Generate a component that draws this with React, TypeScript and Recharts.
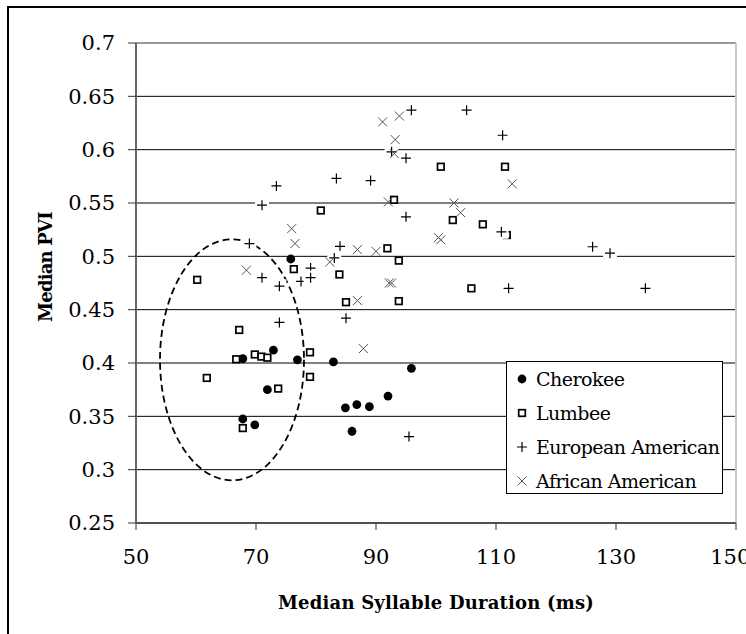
import { CartesianGrid, Label, Legend, ReferenceArea, ReferenceLine, Scatter, ScatterChart, XAxis, YAxis } from 'recharts'

const FONT = '"DejaVu Serif", serif'

// [median syllable duration (ms), median PVI]
const cherokee = [
  [75.8, 0.4975], [67.8, 0.404], [72.9, 0.412], [76.9, 0.403], [71.9, 0.375],
  [67.8, 0.3475], [69.8, 0.342], [82.9, 0.401], [84.9, 0.358], [86.8, 0.361],
  [88.9, 0.359], [86.0, 0.336], [92.0, 0.369], [95.9, 0.395],
]

const lumbee = [
  [60.2, 0.478], [80.8, 0.543], [76.3, 0.488], [83.9, 0.483], [85.0, 0.457],
  [91.9, 0.5075], [93.0, 0.553], [93.8, 0.496], [93.8, 0.458], [100.8, 0.584],
  [111.5, 0.584], [102.8, 0.534], [107.8, 0.53], [111.8, 0.52], [105.9, 0.47],
  [67.2, 0.431], [66.7, 0.4035], [69.8, 0.408], [70.9, 0.406], [71.9, 0.405],
  [61.8, 0.386], [73.7, 0.376], [67.8, 0.339], [79.0, 0.41], [79.0, 0.387],
]

const european = [
  [95.9, 0.637], [73.4, 0.566], [71.0, 0.548], [83.4, 0.573], [89.1, 0.571],
  [92.6, 0.598], [95.0, 0.592], [95.0, 0.537], [68.9, 0.512], [71.0, 0.48],
  [73.9, 0.472], [77.5, 0.4765], [79.1, 0.489], [79.1, 0.48], [84.0, 0.5094],
  [83.05, 0.4985], [105.1, 0.637], [111.1, 0.6135], [110.9, 0.523], [126.1, 0.509],
  [129.0, 0.503], [112.1, 0.47], [134.9, 0.47], [73.9, 0.438], [85.0, 0.442],
  [95.5, 0.331],
]

const african = [
  [91.1, 0.626], [93.9, 0.6315], [93.2, 0.6094], [93.05, 0.5963], [92.05, 0.551],
  [75.95, 0.526], [76.5, 0.512], [68.4, 0.487], [82.3, 0.4947], [86.9, 0.5063],
  [90.0, 0.5047], [92.2, 0.475], [92.6, 0.475], [86.9, 0.4585], [112.7, 0.568],
  [103.0, 0.55], [104.1, 0.541], [100.4, 0.5175], [100.8, 0.5155], [87.9, 0.4135],
]

const seriesNames = ['Cherokee', 'Lumbee', 'European American', 'African American']
const xTicks = [50, 70, 90, 110, 130, 150]
const yTicks = [0.25, 0.3, 0.35, 0.4, 0.45, 0.5, 0.55, 0.6, 0.65, 0.7]

// dashed ellipse drawn around the Native American cluster
const ellipseX = [54, 78]
const ellipseY = [0.29, 0.516]

const toPoints = (pairs: number[][]) => pairs.map(([x, y]) => ({ x, y }))

function DotMark({ cx, cy }: any) {
  return <circle cx={cx} cy={cy} r={4.4} fill="#000" />
}

function SquareMark({ cx, cy }: any) {
  return <rect x={cx - 3.3} y={cy - 3.3} width={6.6} height={6.6} fill="#fff" stroke="#000" strokeWidth={1.7} />
}

function PlusMark({ cx, cy, bg = true }: any) {
  return (
    <g>
      {bg && <rect x={cx - 7} y={cy - 7} width={14} height={14} fill="#fff" />}
      <path d={`M${cx - 5},${cy}H${cx + 5}M${cx},${cy - 5}V${cy + 5}`} stroke="#000" strokeWidth={1.2} />
    </g>
  )
}

function CrossMark({ cx, cy }: any) {
  return (
    <path
      d={`M${cx - 4.5},${cy - 4.5}L${cx + 4.5},${cy + 4.5}M${cx - 4.5},${cy + 4.5}L${cx + 4.5},${cy - 4.5}`}
      stroke="#555"
      strokeWidth={1}
    />
  )
}

const markers = [DotMark, SquareMark, PlusMark, CrossMark]

function LegendBox() {
  return (
    <div
      style={{
        width: 215,
        height: 131,
        border: '1px solid #000',
        background: '#fff',
        fontFamily: FONT,
        fontSize: 19,
        color: '#000',
      }}
    >
      {seriesNames.map((name, i) => {
        const Mark = markers[i]
        return (
          <div key={name} style={{ display: 'flex', alignItems: 'center', height: 34, whiteSpace: 'nowrap' }}>
            <svg width={29} height={34} style={{ flex: 'none' }}>
              <Mark cx={15} cy={17} bg={false} />
            </svg>
            <span style={{ lineHeight: '34px', letterSpacing: -0.5 }}>{name}</span>
          </div>
        )
      })}
    </div>
  )
}

export default function App() {
  const tickStyle = { fontSize: 21, fill: '#000', fontFamily: FONT }
  const series = [cherokee, lumbee, european, african]

  return (
    <div style={{ position: 'absolute', left: 0, top: 0, width: 746, height: 634, overflow: 'hidden', background: '#fff' }}>
      <div
        style={{
          position: 'absolute',
          left: 7,
          top: 6,
          width: 800,
          height: 700,
          border: '2px solid #000',
        }}
      />
      <div style={{ position: 'absolute', left: 0, top: 0 }}>
        <ScatterChart width={746} height={634} margin={{ top: 43, right: 10, bottom: 31, left: 60 }}>
          <CartesianGrid vertical={false} stroke="#000" strokeWidth={1} />
          <XAxis
            type="number"
            dataKey="x"
            domain={[50, 150]}
            ticks={xTicks}
            height={80}
            tickSize={7}
            tickMargin={19}
            tick={tickStyle}
            axisLine={{ stroke: '#222', strokeWidth: 1 }}
            tickLine={{ stroke: '#333' }}
          >
            <Label
              content={(p: any) => {
                const vb = p.viewBox
                return (
                  <text
                    x={vb.x + vb.width / 2}
                    y={vb.y + 85.5}
                    textAnchor="middle"
                    fontFamily={FONT}
                    fontWeight="bold"
                    fontSize={18}
                    letterSpacing={0.2}
                    fill="#000"
                  >
                    Median Syllable Duration (ms)
                  </text>
                )
              }}
            />
          </XAxis>
          <YAxis
            type="number"
            dataKey="y"
            domain={[0.25, 0.7]}
            ticks={yTicks}
            width={76}
            tickSize={8}
            tickMargin={13}
            tick={tickStyle}
            axisLine={{ stroke: '#666', strokeWidth: 2 }}
            tickLine={{ stroke: '#333' }}
          >
            <Label
              content={(p: any) => {
                const vb = p.viewBox
                const x = vb.x - 8
                const y = vb.y + vb.height / 2 - 16
                return (
                  <text
                    x={x}
                    y={y}
                    transform={`rotate(-90 ${x} ${y})`}
                    textAnchor="middle"
                    fontFamily={FONT}
                    fontWeight="bold"
                    fontSize={18}
                    letterSpacing={-0.8}
                    fill="#000"
                  >
                    Median PVI
                  </text>
                )
              }}
            />
          </YAxis>
          <ReferenceLine y={0.7} stroke="#999" strokeWidth={2} />
          <ReferenceLine x={150} stroke="#c8c8c8" strokeWidth={2} />
          <ReferenceArea
            x1={ellipseX[0]}
            x2={ellipseX[1]}
            y1={ellipseY[0]}
            y2={ellipseY[1]}
            shape={(p: any) => (
              <ellipse
                cx={p.x + p.width / 2}
                cy={p.y + p.height / 2}
                rx={Math.abs(p.width) / 2}
                ry={Math.abs(p.height) / 2}
                fill="none"
                stroke="#000"
                strokeWidth={1.8}
                strokeDasharray="7 4"
              />
            )}
          />
          {series.map((pairs, i) => {
            const Mark = markers[i]
            return (
              <Scatter
                key={seriesNames[i]}
                name={seriesNames[i]}
                data={toPoints(pairs)}
                shape={(p: any) => <Mark cx={p.cx} cy={p.cy} />}
                isAnimationActive={false}
              />
            )
          })}
          <Legend
            layout="vertical"
            align="center"
            verticalAlign="middle"
            wrapperStyle={{ left: 506, top: 361, width: 217, height: 133 }}
            content={() => <LegendBox />}
          />
        </ScatterChart>
      </div>
    </div>
  )
}
